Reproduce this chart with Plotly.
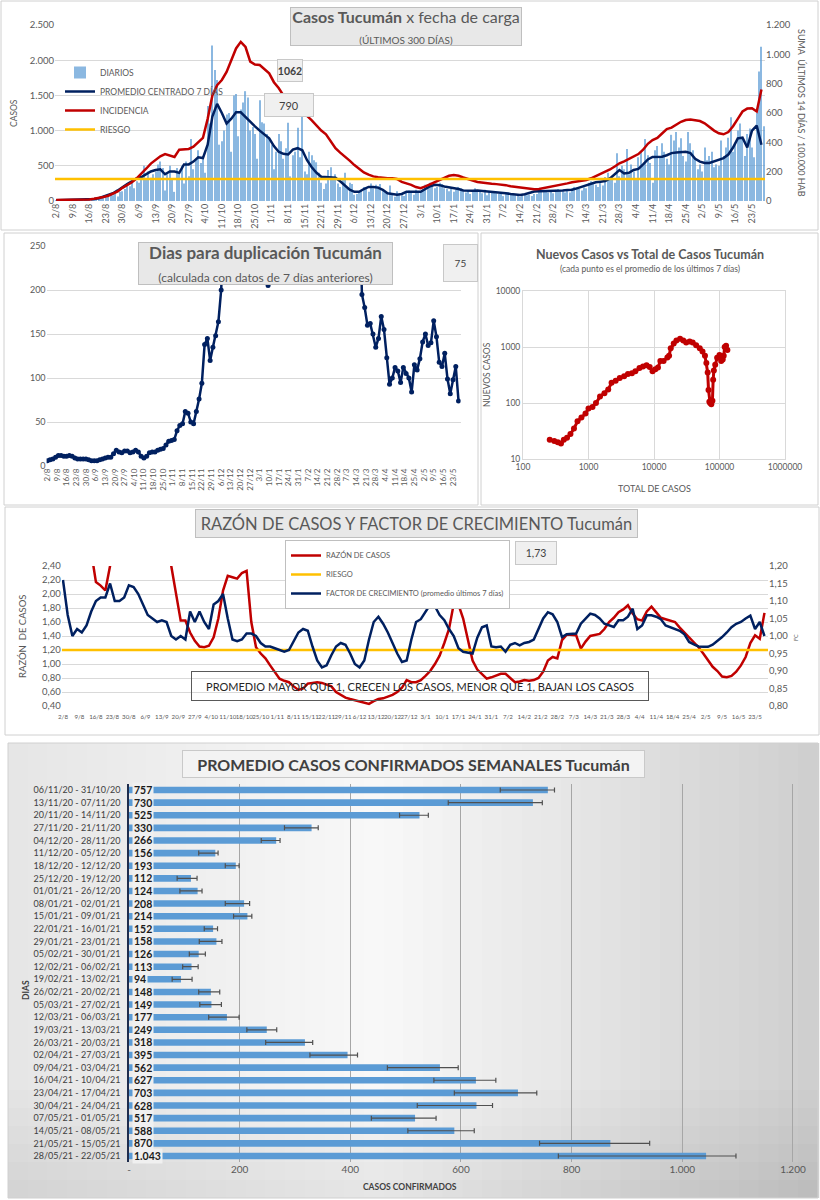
import pandas as pd
import plotly.graph_objects as go

W, H = 820, 1200
def px(x): return x / W
def py(y): return 1 - y / H

FONT = "Lato"
GRAY = "#595959"
DARK = "#404040"
NAVY = "#002060"
RED = "#c00000"
GOLD = "#ffc000"
BLUE = "#5b9bd5"
GRID = "#d9d9d9"

# ---------------- data ----------------
START = "2020-08-02"
N_DAYS = 300

diarios = [
    5, 8, 12, 10, 14, 9, 15,
    12, 18, 16, 22, 20, 11, 17,
    20, 30, 38, 26, 45, 28, 50,
    55, 75, 95, 80, 110, 65, 130,
    140, 170, 230, 210, 260, 180, 280,
    260, 350, 500, 300, 420, 330, 380,
    420, 520, 560, 470, 150, 380, 500,
    300, 130, 470, 400, 500, 250, 560,
    350, 880, 450, 600, 720, 540, 600,
    400, 1350, 1100, 2210, 1860, 1720, 800,
    850, 1000, 1230, 1250, 700, 1500, 1520,
    920, 1300, 1400, 1560, 1470, 1000, 1050,
    950, 600, 1430, 1120, 1100, 950, 900,
    800, 450, 700, 950, 850, 600, 750,
    1110, 350, 650, 700, 1040, 620, 1200,
    420, 380, 700, 650, 580, 550, 400,
    260, 170, 250, 440, 480, 330, 380,
    250, 200, 300, 400, 180, 260, 240,
    90, 100, 120, 150, 200, 170, 130,
    250, 180, 230, 210, 240, 160, 130,
    110, 220, 90, 60, 140, 100, 80,
    70, 130, 150, 120, 90, 160, 140,
    130, 170, 230, 200, 260, 220, 180,
    200, 260, 240, 180, 170, 140, 170,
    130, 160, 200, 180, 140, 120, 150,
    100, 150, 180, 140, 130, 110, 160,
    80, 130, 120, 140, 110, 100, 120,
    70, 110, 120, 90, 100, 80, 100,
    60, 100, 110, 80, 90, 70, 100,
    100, 150, 160, 140, 130, 120, 150,
    110, 160, 170, 150, 140, 120, 160,
    120, 180, 200, 190, 170, 150, 190,
    180, 260, 280, 250, 230, 200, 270,
    220, 340, 400, 330, 300, 260, 680,
    350, 500, 450, 740, 380, 520, 420,
    300, 620, 700, 500, 880, 650, 540,
    260, 720, 780, 640, 820, 700, 600,
    520, 940, 860, 980, 760, 890, 640,
    560, 980, 820, 720, 600, 450, 520,
    420, 760, 580, 640, 700, 480, 520,
    500, 860, 640, 760, 900, 1190, 700,
    820, 1000, 1100, 880, 640, 950, 1030,
    760, 620, 1250, 1840, 2190, 1062,
]

# every second day
promedio = [
    10, 12, 14, 15, 15, 18, 22, 25, 30, 40, 60, 85, 110, 150, 200, 240, 280, 320, 340, 380,
    420, 440, 450, 380, 420, 420, 400, 520, 520, 560, 620, 610, 800, 1200, 1380, 1250, 1100, 1170, 1260, 1260,
    1190, 1120, 1060, 1000, 950, 890, 780, 700, 670, 660, 730, 750, 720, 580, 480, 400, 345, 340, 340, 330,
    280, 220, 160, 130, 130, 170, 200, 200, 190, 160, 110, 100, 90, 100, 130, 130, 125, 130, 170, 210,
    230, 225, 205, 195, 190, 170, 150, 145, 145, 150, 145, 140, 130, 120, 115, 110, 100, 90, 85, 95,
    120, 135, 140, 140, 140, 140, 145, 150, 155, 160, 180, 200, 230, 250, 265, 275, 285, 320, 380, 440,
    390, 400, 440, 455, 520, 590, 625, 630, 630, 650, 680, 690, 700, 700, 680, 600, 560, 540, 540, 560,
    580, 610, 660, 760, 890, 900, 760, 1000, 1070, 800,
]
incidencia = [
    7, 7, 8, 8, 9, 10, 10, 11, 15, 20, 27, 36, 50, 65, 90, 110, 128, 155, 185, 220,
    255, 280, 305, 320, 310, 300, 350, 355, 355, 370, 400, 430, 560, 720, 790, 825, 880, 960, 1040, 1085,
    1050, 950, 930, 927, 900, 870, 810, 770, 720, 670, 650, 621, 600, 580, 550, 515, 480, 455, 410, 360,
    330, 305, 275, 245, 220, 195, 180, 168, 162, 157, 155, 155, 150, 130, 122, 110, 95, 87, 100, 115,
    125, 140, 160, 172, 177, 172, 160, 148, 140, 130, 125, 122, 118, 115, 112, 108, 100, 95, 93, 88,
    83, 80, 82, 88, 95, 97, 105, 112, 120, 128, 132, 138, 143, 155, 170, 185, 195, 215, 235, 257,
    270, 285, 305, 320, 350, 390, 415, 430, 460, 490, 500, 520, 540, 552, 555, 550, 545, 530, 505, 480,
    462, 455, 470, 510, 560, 610, 630, 632, 610, 760,
]
riesgo_incidencia = 150

duplicacion = [
    6, 7, 8, 10, 12, 12, 11, 11, 12, 11, 9, 8, 8, 8, 8, 7, 6, 6, 6, 7,
    8, 9, 10, 10, 14, 18, 16, 15, 17, 17, 15, 16, 18, 16, 11, 9, 11, 15, 16, 16,
    18, 19, 20, 24, 28, 29, 30, 40, 46, 48, 62, 60, 50, 48, 62, 76, 94, 138, 145, 120,
    135, 148, 164, 200, 320, 380, 450, 520, 600, 650, 700, 680, 600, 560, 520, 450, 380, 300, 260, 240,
    205, 260, 320, 380, 450, 520, 600, 650, 700, 720, 700, 680, 650, 620, 600, 580, 560, 540, 520, 500,
    480, 460, 440, 420, 400, 380, 360, 340, 330, 320, 300, 290, 280, 320, 195, 180, 160, 162, 150, 135,
    145, 170, 155, 123, 93, 100, 112, 108, 95, 112, 105, 100, 84, 115, 109, 122, 141, 150, 137, 140,
    165, 147, 118, 113, 128, 99, 82, 98, 113, 74,
]

razon = [
    4.0, 3.8, 3.5, 3.2, 3.0, 2.8, 2.6, 2.17, 2.12, 2.05, 2.5, 3.0, 3.4, 3.6, 3.8, 3.5, 3.3, 3.1, 3.0, 3.2,
    3.1, 2.9, 2.7, 2.4, 2.0, 1.62, 1.62, 1.45, 1.33, 1.25, 1.24, 1.26, 1.38, 1.65, 2.05, 2.26, 2.24, 2.22, 2.30, 2.33,
    1.60, 1.24, 1.15, 1.08, 0.98, 0.88, 0.79, 0.76, 0.74, 0.68, 0.63, 0.65, 0.72, 0.73, 0.74, 0.73, 0.71, 0.68, 0.60, 0.56,
    0.52, 0.50, 0.48, 0.46, 0.45, 0.43, 0.47, 0.50, 0.51, 0.53, 0.56, 0.60, 0.66, 0.77, 0.74, 0.74, 0.77, 0.83, 0.90, 1.00,
    1.12, 1.30, 1.50, 1.86, 1.85, 1.65, 1.35, 1.05, 0.92, 0.85, 0.79, 0.81, 0.84, 0.86, 0.86, 0.80, 0.74, 0.75, 0.77, 0.76,
    0.77, 0.80, 0.89, 1.05, 1.10, 1.08, 1.34, 1.42, 1.42, 1.41, 1.22, 1.32, 1.40, 1.42, 1.43, 1.50, 1.60, 1.66, 1.74, 1.78,
    1.84, 1.72, 1.64, 1.62, 1.75, 1.82, 1.74, 1.66, 1.64, 1.62, 1.60, 1.52, 1.45, 1.38, 1.31, 1.24, 1.15, 1.05, 0.96, 0.90,
    0.82, 0.81, 0.83, 0.89, 0.98, 1.10, 1.30, 1.41, 1.36, 1.73,
]
factor = [
    1.16, 1.06, 1.00, 1.02, 1.01, 1.03, 1.07, 1.10, 1.11, 1.11, 1.15, 1.10, 1.10, 1.11, 1.145, 1.14, 1.12, 1.09, 1.06, 1.05,
    1.04, 1.045, 1.04, 1.00, 0.99, 1.00, 0.99, 1.07, 1.04, 1.07, 1.04, 1.02, 1.09, 1.10, 1.12, 1.05, 0.99, 0.985, 0.99, 1.007,
    1.007, 1.00, 0.98, 0.97, 0.97, 0.965, 0.96, 0.955, 0.96, 0.985, 1.01, 1.02, 1.015, 0.97, 0.93, 0.91, 0.916, 0.945, 0.97, 0.98,
    0.975, 0.95, 0.92, 0.91, 0.93, 0.99, 1.04, 1.055, 1.035, 1.01, 0.98, 0.95, 0.926, 0.93, 0.99, 1.04, 1.048, 1.07, 1.09, 1.085,
    1.06, 1.045, 1.02, 1.00, 0.965, 0.955, 0.952, 0.95, 0.995, 1.025, 1.03, 0.97, 0.968, 0.97, 0.955, 0.975, 0.98, 0.973, 0.98, 0.983,
    0.99, 1.02, 1.05, 1.068, 1.062, 1.04, 0.997, 1.005, 1.007, 1.007, 1.035, 1.05, 1.064, 1.06, 1.05, 1.035, 1.03, 1.026, 1.045, 1.045,
    1.055, 1.078, 1.02, 1.03, 1.059, 1.059, 1.055, 1.048, 1.03, 1.025, 1.021, 1.015, 1.005, 0.983, 0.976, 0.97, 0.969, 0.969, 0.975, 0.985,
    0.997, 1.01, 1.025, 1.035, 1.04, 1.05, 1.058, 1.02, 1.04, 1.00,
]
riesgo_razon = 1.2

total_casos = [256, 300, 340, 380, 420, 470, 530, 600, 680, 780, 900, 1000, 1150, 1300, 1500,
               1750, 2000, 2250, 2600, 3000, 3500, 4000, 4600, 5200, 6000, 6800, 7700, 8600, 9500, 10500,
               11500, 12500, 14000, 16000, 17000, 18000, 20000, 22000, 25000, 28000, 31000, 35000, 39000, 44000, 50000,
               55000, 60000, 63000, 66000, 68000, 70000, 72000, 75000, 78000, 80000, 82000, 86000, 92000, 100000, 106000,
               112000, 116000, 120000, 126000, 132000]
nuevos_casos = [22, 21, 20, 19, 22, 24, 28, 35, 47, 55, 65, 80, 85, 100, 130,
                150, 175, 230, 250, 280, 300, 330, 340, 370, 420, 450, 470, 440, 370, 400,
                430, 560, 560, 650, 700, 950, 1150, 1300, 1400, 1300, 1200, 1250, 1200, 1080, 950,
                830, 700, 520, 350, 170, 105, 100, 95, 110, 260, 380, 480, 640, 720, 560,
                600, 700, 1000, 1050, 880]
log_ticks_x = [100, 1000, 10000, 100000, 1000000]
log_ticks_y = [10, 100, 1000, 10000]

semanas = ["06/11/20 - 31/10/20", "13/11/20 - 07/11/20", "20/11/20 - 14/11/20", "27/11/20 - 21/11/20",
           "04/12/20 - 28/11/20", "11/12/20 - 05/12/20", "18/12/20 - 12/12/20", "25/12/20 - 19/12/20",
           "01/01/21 - 26/12/20", "08/01/21 - 02/01/21", "15/01/21 - 09/01/21", "22/01/21 - 16/01/21",
           "29/01/21 - 23/01/21", "05/02/21 - 30/01/21", "12/02/21 - 06/02/21", "19/02/21 - 13/02/21",
           "26/02/21 - 20/02/21", "05/03/21 - 27/02/21", "12/03/21 - 06/03/21", "19/03/21 - 13/03/21",
           "26/03/21 - 20/03/21", "02/04/21 - 27/03/21", "09/04/21 - 03/04/21", "16/04/21 - 10/04/21",
           "23/04/21 - 17/04/21", "30/04/21 - 24/04/21", "07/05/21 - 01/05/21", "14/05/21 - 08/05/21",
           "21/05/21 - 15/05/21", "28/05/21 - 22/05/21"]
promedio_semanal = [757, 730, 525, 330, 266, 156, 193, 112, 124, 208, 214, 152, 158, 126, 113, 94, 148, 149,
                    177, 249, 318, 395, 562, 627, 703, 628, 517, 588, 870, 1043]
semanal_min = [671, 577, 489, 281, 239, 126, 174, 87, 92, 174, 189, 136, 127, 109, 97, 78, 126, 128,
               144, 213, 247, 327, 467, 551, 588, 521, 438, 504, 742, 776]
semanal_max = [769, 747, 541, 342, 273, 161, 199, 123, 132, 218, 222, 160, 168, 138, 125, 114, 164, 167,
               199, 267, 332, 413, 595, 663, 737, 657, 555, 624, 941, 1097]
bar_ticks = [0, 200, 400, 600, 800, 1000, 1200]
bar_ticktext = ["-", "200", "400", "600", "800", "1.000", "1.200"]

# ---------------- derived ----------------
dates = pd.date_range(START, periods=N_DAYS, freq="D")
dates2 = dates[::2]
week_ticks = list(dates[::7])
week_text = [f"{d.day}/{d.month}" for d in week_ticks]
half = pd.Timedelta(hours=12)
x_range = [dates[0] - half, dates[-1] + half]

fig = go.Figure()

# Panel 1
fig.add_trace(go.Bar(x=dates, y=diarios, name="DIARIOS", marker=dict(color=BLUE, line_width=0),
                     opacity=0.7, width=0.45 * 86400000, xaxis="x", yaxis="y", legend="legend"))
fig.add_trace(go.Scatter(x=dates2, y=promedio, name="PROMEDIO CENTRADO 7 DÍAS", mode="lines",
                         line=dict(color=NAVY, width=2.5), xaxis="x", yaxis="y", legend="legend"))
fig.add_trace(go.Scatter(x=dates2, y=incidencia, name="INCIDENCIA", mode="lines",
                         line=dict(color=RED, width=2.5), xaxis="x", yaxis="y2", legend="legend"))
fig.add_trace(go.Scatter(x=x_range, y=[riesgo_incidencia] * 2, name="RIESGO", mode="lines",
                         line=dict(color=GOLD, width=2.5), xaxis="x", yaxis="y2", legend="legend"))

# Panel 2 left
fig.add_trace(go.Scatter(x=dates2, y=duplicacion, mode="lines+markers", line=dict(color=NAVY, width=2.5),
                         marker=dict(size=5, color=NAVY), xaxis="x2", yaxis="y3", showlegend=False))

# Panel 2 right
fig.add_trace(go.Scatter(x=total_casos, y=nuevos_casos, mode="lines+markers", line=dict(color=RED, width=3),
                         marker=dict(size=6, color=RED), xaxis="x3", yaxis="y4", showlegend=False))

# Panel 3
fig.add_trace(go.Scatter(x=dates2, y=razon, name="RAZÓN DE CASOS", mode="lines",
                         line=dict(color=RED, width=2.5), xaxis="x4", yaxis="y5", legend="legend2"))
fig.add_trace(go.Scatter(x=x_range, y=[riesgo_razon] * 2, name="RIESGO", mode="lines",
                         line=dict(color=GOLD, width=2.5), xaxis="x4", yaxis="y5", legend="legend2"))
fig.add_trace(go.Scatter(x=dates2, y=factor, name="FACTOR DE CRECIMIENTO (promedio últimos 7 días)",
                         mode="lines", line=dict(color=NAVY, width=2.5), xaxis="x4", yaxis="y6",
                         legend="legend2"))

# Panel 4
fig.add_trace(go.Bar(y=semanas, x=promedio_semanal, orientation="h", marker=dict(color=BLUE, line_width=0),
                     width=0.52,
                     error_x=dict(type="data", symmetric=False,
                                  array=[hi - v for hi, v in zip(semanal_max, promedio_semanal)],
                                  arrayminus=[v - lo for lo, v in zip(semanal_min, promedio_semanal)],
                                  color="#505050", thickness=1.2, width=2.5),
                     xaxis="x5", yaxis="y7", showlegend=False))

# ---------------- shapes ----------------
shapes = []
n = 41
x0, x1 = 8, 818
for i in range(n):
    a = x0 + (x1 - x0) * i / n
    b = x0 + (x1 - x0) * (i + 1) / n
    c = (a + b) / 2
    if c < 380:
        g = 229 + (248 - 229) * (c - x0) / (380 - x0)
    else:
        g = 248 - (248 - 206) * (c - 380) / (x1 - 380)
    g = int(round(g))
    shapes.append(dict(type="rect", xref="paper", yref="paper", x0=px(a), x1=px(b) + 0.0015,
                       y0=py(1198), y1=py(743), line_width=0, fillcolor=f"rgb({g},{g},{g})", layer="below"))
for j in range(6):
    shapes.append(dict(type="rect", xref="paper", yref="paper", x0=px(8), x1=px(818),
                       y0=py(1198), y1=py(1198 - 18 * (j + 1)), line_width=0,
                       fillcolor="rgba(0,0,0,0.012)", layer="below"))
for (a, b, c, d) in [(1, 1, 818, 230), (4, 233, 478, 505), (481, 233, 818, 505), (5, 507, 819, 735), (8, 743, 818, 1198)]:
    shapes.append(dict(type="rect", xref="paper", yref="paper", x0=px(a), y0=py(d), x1=px(c), y1=py(b),
                       line=dict(color="#d0d0d0", width=1), fillcolor="rgba(0,0,0,0)", layer="below"))

# ---------------- annotations ----------------
ann = []
def box(x, y, text, w, h, size, color=GRAY, bg="#e8e8e8", border="#bfbfbf"):
    ann.append(dict(xref="paper", yref="paper", x=px(x), y=py(y), text=text, showarrow=False,
                    xanchor="center", yanchor="middle", width=w, height=h, bgcolor=bg, bordercolor=border,
                    borderwidth=1, borderpad=0, font=dict(size=size, color=color, family=FONT)))
def txt(x, y, text, size, color=GRAY, angle=0, xanchor="center"):
    ann.append(dict(xref="paper", yref="paper", x=px(x), y=py(y), text=text, showarrow=False,
                    xanchor=xanchor, yanchor="middle", textangle=angle,
                    font=dict(size=size, color=color, family=FONT)))

box(406, 27, "<b>Casos Tucumán</b> x fecha de carga<br><span style='font-size:10px'>(ÚLTIMOS 300 DÍAS)</span>",
    230, 37, 16)
box(290, 70, "<b>1062</b>", 24, 21, 10.5, color=DARK, bg="#f0f0f0", border="#c8c8c8")
box(289, 105, "790", 48, 22, 11, color=DARK, bg="#f0f0f0", border="#c8c8c8")
txt(14, 113, "CASOS", 8.5, angle=-90)
txt(801, 113, "SUMA  ÚLTIMOS 14 DÍAS / 100.000 HAB", 9, angle=90)

box(265, 264, "<b>Dias para duplicación Tucumán</b><br><span style='font-size:12px'>(calculada con datos de 7 días anteriores)</span>",
    253, 41, 17)
box(460, 263, "75", 33, 36, 10, color=DARK, bg="#f0f0f0", border="#c8c8c8")

txt(650, 254, "<b>Nuevos Casos vs Total de Casos Tucumán</b>", 12.5)
txt(650, 269, "(cada punto es el promedio de los últimos 7 días)", 8.5)
txt(654, 489, "TOTAL DE CASOS", 9)
txt(487, 375, "NUEVOS CASOS", 8.5, angle=-90)

box(416, 523, "RAZÓN DE CASOS Y FACTOR DE CRECIMIENTO Tucumán", 441, 27, 16.5)
box(536, 553, "1,73", 40, 22, 10.5, color=DARK, bg="#f0f0f0", border="#c8c8c8")
txt(22, 636, "RAZÓN  DE CASOS", 9.5, angle=-90)
txt(796, 638, "FC", 5.5, angle=-90)
box(420, 685.5, "PROMEDIO MAYOR QUE 1, CRECEN LOS CASOS, MENOR QUE 1, BAJAN LOS CASOS", 456, 28, 11,
    color="#262626", bg="rgba(0,0,0,0)", border="#595959")

box(413, 763.5, "<b>PROMEDIO CASOS CONFIRMADOS SEMANALES Tucumán</b>", 461, 26, 16, color=DARK,
    bg="#f3f3f3", border="#c9c9c9")
txt(26, 990, "<b>DIAS</b>", 8.5, color=DARK, angle=-90)
txt(410, 1187, "<b>CASOS CONFIRMADOS</b>", 8.5, color=DARK)

for lab, v in zip(semanas, promedio_semanal):
    ann.append(dict(xref="x5", yref="y7", x=0, y=lab, text=f"<b>{v:,}</b>".replace(",", "."),
                    showarrow=False, xanchor="left", yanchor="middle", xshift=3,
                    bgcolor="#f0f0f0", borderpad=1, font=dict(size=10.5, color="#1a1a1a", family=FONT)))

# ---------------- layout ----------------
tickf = dict(size=9, color=GRAY, family=FONT)
fig.update_layout(
    width=W, height=H, autosize=False, margin=dict(l=0, r=0, t=0, b=0, autoexpand=False),
    paper_bgcolor="white", plot_bgcolor="rgba(0,0,0,0)", separators=",.",
    font=dict(family=FONT, color=GRAY, size=10),
    shapes=shapes, annotations=ann, showlegend=True,
    # panel 1
    xaxis=dict(domain=[px(55), px(765)], range=x_range, anchor="y", tickmode="array", tickvals=week_ticks,
               ticktext=week_text, tickangle=-90, tickfont=tickf, showgrid=False, zeroline=False, ticks=""),
    yaxis=dict(domain=[py(201), py(25)], range=[0, 2500], dtick=500, gridcolor=GRID, zeroline=False,
               separatethousands=True, tickfont=dict(size=9.5, color=GRAY), anchor="x"),
    yaxis2=dict(overlaying="y", side="right", anchor="x", range=[0, 1200], dtick=200, showgrid=False,
                zeroline=False, separatethousands=True, tickfont=dict(size=9.5, color=GRAY)),
    # panel 2 left
    xaxis2=dict(domain=[px(46.6), px(460.6)], range=x_range, anchor="y3", tickmode="array",
                tickvals=week_ticks, ticktext=week_text, tickangle=-90, tickfont=dict(size=8, color=GRAY),
                showgrid=False, zeroline=False, ticks=""),
    yaxis3=dict(domain=[py(466), py(246)], range=[0, 250], dtick=50, gridcolor=GRID, zeroline=False,
                anchor="x2", tickfont=dict(size=9, color=GRAY)),
    # panel 2 right
    xaxis3=dict(domain=[px(523), px(785)], type="log", range=[2, 6], anchor="y4", tickmode="array",
                tickvals=log_ticks_x, ticktext=[str(t) for t in log_ticks_x], gridcolor=GRID,
                showline=True, linecolor=GRID, mirror=True, zeroline=False, tickfont=dict(size=8.5, color=GRAY)),
    yaxis4=dict(domain=[py(459), py(291)], type="log", range=[1, 4], anchor="x3", tickmode="array",
                tickvals=log_ticks_y, ticktext=[str(t) for t in log_ticks_y], gridcolor=GRID,
                showline=True, linecolor=GRID, mirror=True, zeroline=False, tickfont=dict(size=8.5, color=GRAY)),
    # panel 3
    xaxis4=dict(domain=[px(61.8), px(768)], range=x_range, anchor="y5", tickmode="array", tickvals=week_ticks,
                ticktext=week_text, tickangle=0, tickfont=dict(size=6.2, color=GRAY), showgrid=False,
                zeroline=False, ticks="", ticklabelstandoff=6),
    yaxis5=dict(domain=[py(706), py(566)], range=[0.4, 2.4], dtick=0.2, tickformat=".2f", gridcolor=GRID,
                zeroline=False, anchor="x4", tickfont=dict(size=9.5, color=GRAY)),
    yaxis6=dict(overlaying="y5", side="right", anchor="x4", range=[0.8, 1.2], dtick=0.05, tickformat=".2f",
                showgrid=False, zeroline=False, tickfont=dict(size=9.5, color=GRAY)),
    # panel 4
    xaxis5=dict(domain=[px(129), px(799.6)], range=[0, 1212], anchor="y7", tickmode="array", tickvals=bar_ticks,
                ticktext=bar_ticktext, gridcolor="#a6a6a6", zeroline=False, tickfont=dict(size=10, color=GRAY)),
    yaxis7=dict(domain=[py(1162.3), py(783.7)], type="category", categoryorder="array", categoryarray=semanas,
                tickmode="array", tickvals=semanas, ticktext=semanas, ticklabelstandoff=5,
                range=[29.5, -0.5], anchor="x5", showline=True, linecolor="#1f2d4d", linewidth=1.5, ticks="",
                tickfont=dict(size=9, color=DARK), showgrid=False),
    legend=dict(x=px(60), y=py(58), xanchor="left", yanchor="top", bgcolor="rgba(0,0,0,0)",
                font=dict(size=8.5, color=GRAY, family=FONT), itemwidth=30, tracegroupgap=0),
    legend2=dict(x=px(285), y=py(540), xanchor="left", yanchor="top", bgcolor="white", bordercolor="#bfbfbf",
                 borderwidth=1, font=dict(size=7.5, color=GRAY, family=FONT), itemwidth=30),
)

fig.write_html("out.html", config={"displayModeBar": False},
               post_script="document.body.style.margin='0px';document.body.style.overflow='hidden';")
